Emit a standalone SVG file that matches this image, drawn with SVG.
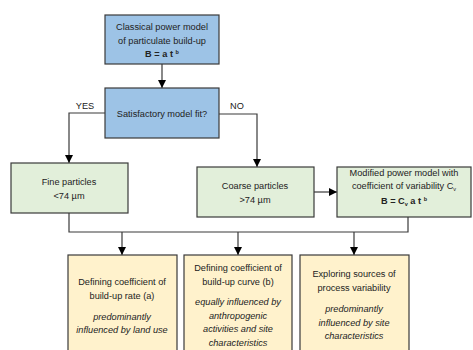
<svg xmlns="http://www.w3.org/2000/svg" width="473" height="350" viewBox="0 0 473 350">
<defs>
<marker id="ah" viewBox="0 0 10 10" refX="10" refY="5" markerWidth="8" markerHeight="9" markerUnits="userSpaceOnUse" orient="auto">
<path d="M0,0 L10,5 L0,10 Z" fill="#000"/>
</marker>
<style>
.blue{fill:#9DC3E6;stroke:#3a3a3a;stroke-width:1.2}
.green{fill:#E2EFDA;stroke:#3a3a3a;stroke-width:1.2}
.yel{fill:#FFF2CC;stroke:#3a3a3a;stroke-width:1.2}
text{font-family:"Liberation Sans",Arial,sans-serif;font-size:9.2px;fill:#222;text-anchor:middle}
.b{font-weight:bold}
.i{font-style:italic}
.c{fill:none;stroke:#3a3a3a;stroke-width:1.2}
</style>
</defs>
<rect width="473" height="350" fill="#fff"/>
<g id="connectors">
<path class="c" d="M162,64 V88" marker-end="url(#ah)"/>
<path class="c" d="M105,113 H69 V163" marker-end="url(#ah)"/>
<path class="c" d="M219,114 H257 V167" marker-end="url(#ah)"/>
<path class="c" d="M314,192 H337" marker-end="url(#ah)"/>
<path class="c" d="M69,213 V232 H408 V217"/>
<path class="c" d="M122,232 V255" marker-end="url(#ah)"/>
<path class="c" d="M238,232 V255" marker-end="url(#ah)"/>
<path class="c" d="M354,232 V255" marker-end="url(#ah)"/>
<text x="85" y="109">YES</text>
<text x="237" y="109">NO</text>
</g>
<g id="classical">
<rect class="blue" x="105" y="15" width="114" height="49"/>
<text x="162" y="30">Classical power model</text>
<text x="162" y="44">of particulate build-up</text>
<text x="162" y="57" class="b">B = a t <tspan font-size="5.5" dy="-3">b</tspan></text>
</g>
<g id="fit">
<rect class="blue" x="105" y="88" width="114" height="50"/>
<text x="162" y="117">Satisfactory model fit?</text>
</g>
<g id="fine">
<rect class="green" x="11" y="163" width="117" height="50"/>
<text x="69" y="185">Fine particles</text>
<text x="69" y="199">&lt;74 µm</text>
</g>
<g id="coarse">
<rect class="green" x="197" y="167" width="117" height="50"/>
<text x="255" y="189">Coarse particles</text>
<text x="255" y="203">&gt;74 µm</text>
</g>
<g id="modified">
<rect class="green" x="337" y="167" width="134" height="50"/>
<text x="404" y="176">Modified power model with</text>
<text x="404" y="189">coefficient of variability C<tspan font-size="5.5" dy="2">v</tspan></text>
<text x="404" y="204" class="b">B = C<tspan font-size="5.5" dy="2">v</tspan><tspan dy="-2"> a t </tspan><tspan font-size="5.5" dy="-3">b</tspan></text>
</g>
<g id="rate">
<rect class="yel" x="68" y="255" width="109" height="100"/>
<text x="122" y="285">Defining coefficient of</text>
<text x="122" y="299">build-up rate (a)</text>
<text x="122" y="320" class="i">predominantly</text>
<text x="122" y="333" class="i">influenced by land use</text>
</g>
<g id="curve">
<rect class="yel" x="184" y="255" width="108" height="100"/>
<text x="238" y="271">Defining coefficient of</text>
<text x="238" y="285">build-up curve (b)</text>
<text x="238" y="305" class="i">equally influenced by</text>
<text x="238" y="319" class="i">anthropogenic</text>
<text x="238" y="332" class="i">activities and site</text>
<text x="238" y="346" class="i">characteristics</text>
</g>
<g id="variability">
<rect class="yel" x="300" y="255" width="109" height="100"/>
<text x="354" y="277">Exploring sources of</text>
<text x="354" y="291">process variability</text>
<text x="354" y="312" class="i">predominantly</text>
<text x="354" y="326" class="i">influenced by site</text>
<text x="354" y="339" class="i">characteristics</text>
</g>
</svg>
